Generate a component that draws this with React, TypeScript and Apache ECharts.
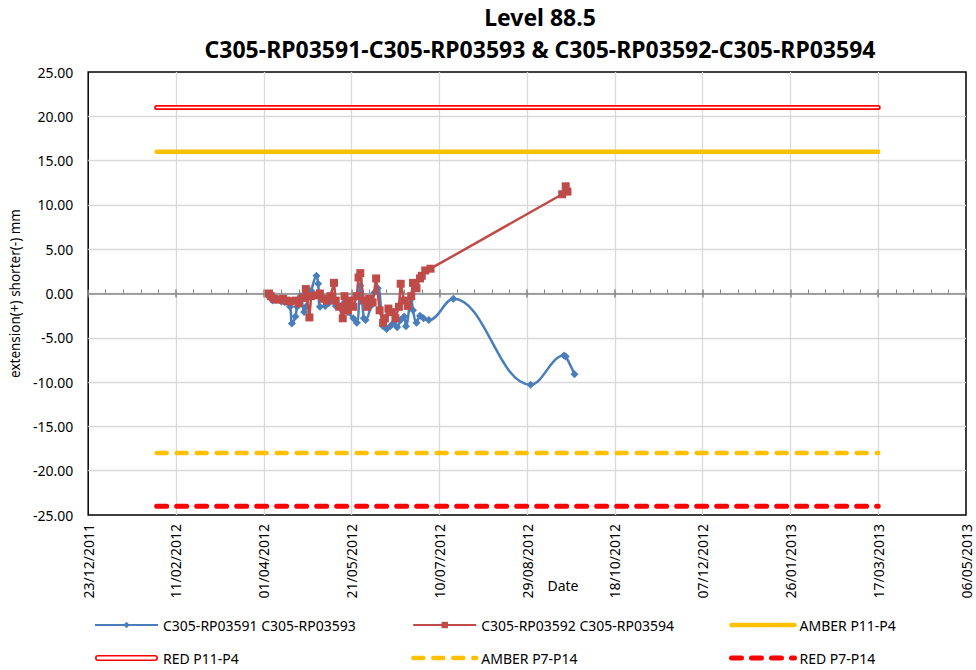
import React, { useEffect, useRef } from 'react';
import * as echarts from 'echarts';

const titleLines = ['Level 88.5', 'C305-RP03591-C305-RP03593 & C305-RP03592-C305-RP03594'];
const yAxisTitle = 'extension(+) shorter(-) mm';
const xAxisTitle = 'Date';
const axisStartDate = '2011-12-23';
const xTickStepDays = 50;
const xTickCount = 10;
const yMin = -25;
const yMax = 25;
const yStep = 5;

const series1Name = 'C305-RP03591 C305-RP03593';
const series1Dates = [
  '2012-04-04', '2012-04-06', '2012-04-11', '2012-04-13', '2012-04-16', '2012-04-17', '2012-04-19', '2012-04-20',
  '2012-04-22', '2012-04-24', '2012-04-25', '2012-04-28', '2012-05-01', '2012-05-02', '2012-05-03', '2012-05-06',
  '2012-05-08', '2012-05-10', '2012-05-12', '2012-05-15', '2012-05-17', '2012-05-19', '2012-05-22', '2012-05-24',
  '2012-05-26', '2012-05-28', '2012-05-29', '2012-06-01', '2012-06-03', '2012-06-05', '2012-06-08', '2012-06-10',
  '2012-06-12', '2012-06-14', '2012-06-16', '2012-06-18', '2012-06-20', '2012-06-21', '2012-06-24', '2012-06-25',
  '2012-06-27', '2012-06-29', '2012-07-01', '2012-07-04', '2012-07-18', '2012-08-31', '2012-09-19', '2012-09-20',
  '2012-09-25',
];
const series1Values = [
  -0.3, -0.8, -0.9, -1.0, -1.5, -3.4, -2.6, -1.5,
  -0.3, -2.1, -1.5, 0.3, 2.0, 1.1, -1.5, -1.4,
  -1.1, -0.8, -1.4, -1.6, -1.0, -2.1, -2.8, -3.3,
  0.9, -2.8, -3.0, -1.4, 0.1, 0.6, -3.7, -4.0,
  -3.7, -3.3, -3.8, -3.0, -2.6, -3.7, -0.6, -1.9,
  -3.3, -2.5, -2.8, -3.0, -0.6, -10.3, -7.0, -7.1,
  -9.1,
];

const series2Name = 'C305-RP03592 C305-RP03594';
const series2Dates = [
  '2012-04-04', '2012-04-05', '2012-04-07', '2012-04-09', '2012-04-12', '2012-04-14', '2012-04-16', '2012-04-19',
  '2012-04-21', '2012-04-23', '2012-04-25', '2012-04-27', '2012-04-28', '2012-05-01', '2012-05-03', '2012-05-05',
  '2012-05-07', '2012-05-09', '2012-05-11', '2012-05-12', '2012-05-14', '2012-05-16', '2012-05-17', '2012-05-19',
  '2012-05-20', '2012-05-22', '2012-05-24', '2012-05-25', '2012-05-26', '2012-05-28', '2012-05-30', '2012-05-31',
  '2012-06-02', '2012-06-04', '2012-06-06', '2012-06-08', '2012-06-09', '2012-06-11', '2012-06-13', '2012-06-15',
  '2012-06-17', '2012-06-18', '2012-06-20', '2012-06-22', '2012-06-24', '2012-06-25', '2012-06-27', '2012-06-29',
  '2012-06-30', '2012-07-02', '2012-07-05', '2012-09-18', '2012-09-20', '2012-09-21',
];
const series2Values = [
  0.0, -0.3, -0.6, -0.7, -0.6, -0.8, -0.9, -0.8,
  -1.1, -0.5, 0.5, -2.7, -0.3, -0.2, 0.0, -0.6,
  -0.8, -0.3, 1.2, -0.8, -1.5, -2.8, -0.3, -1.9,
  -0.8, -1.5, -0.3, 1.8, 2.3, -0.8, -1.5, -0.6,
  -1.0, 1.7, -1.9, -3.3, -2.8, -1.7, -2.1, -2.8,
  -1.5, 1.1, -0.8, -1.4, -0.3, 1.2, 0.6, 1.7,
  2.0, 2.6, 2.8, 11.2, 12.1, 11.5,
];

const thresholdDates = ['2012-01-31', '2013-03-17'];
const amberP11P4Name = 'AMBER P11-P4';
const amberP11P4Value = 16;
const redP11P4Name = 'RED P11-P4';
const redP11P4Value = 21;
const amberP7P14Name = 'AMBER P7-P14';
const amberP7P14Value = -18;
const redP7P14Name = 'RED P7-P14';
const redP7P14Value = -24;

const FONT = "'Noto Sans', 'Open Sans', sans-serif";
const DAY_MS = 86400000;
const toUTC = (s: string) => {
  const [y, m, d] = s.split('-').map(Number);
  return Date.UTC(y, m - 1, d);
};
const ORIGIN = toUTC(axisStartDate);
const toDay = (s: string) => Math.round((toUTC(s) - ORIGIN) / DAY_MS);
const pad = (n: number) => (n < 10 ? '0' + n : '' + n);
const dayLabel = (v: number) => {
  const d = new Date(ORIGIN + Math.round(v) * DAY_MS);
  return pad(d.getUTCDate()) + '/' + pad(d.getUTCMonth() + 1) + '/' + d.getUTCFullYear();
};

const BLUE = '#4a7ebb';
const RED_S = '#be4b48';
const AMBER = '#FFC000';
const RED = '#FF0000';

const doubleLineIcon =
  'path://M3,0 H60 A3,3 0 0 1 60,6 H3 A3,3 0 0 1 3,0 Z M3,1.6 A1.4,1.4 0 0 0 3,4.4 H60 A1.4,1.4 0 0 0 60,1.6 Z';

export default function App() {
  const ref = useRef<HTMLDivElement>(null);

  useEffect(() => {
    if (!ref.current) return;
    const chart = echarts.init(ref.current, undefined, { renderer: 'svg' });

    const s1 = series1Dates.map((d, i) => [toDay(d), series1Values[i]]);
    const s2 = series2Dates.map((d, i) => [toDay(d), series2Values[i]]);
    const flat = (v: number) => thresholdDates.map((d) => [toDay(d), v]);
    const xMax = xTickStepDays * xTickCount;

    const legendText = { fontSize: 14, color: '#000', fontFamily: FONT, lineHeight: 16 };
    const legendCommon = {
      orient: 'vertical',
      top: 617,
      itemGap: 17,
      itemWidth: 63,
      itemHeight: 8,
      selectedMode: false,
      textStyle: legendText,
      padding: 0,
    };

    const zeroAxisBase = {
      type: 'value',
      min: 0,
      max: xMax,
      interval: xTickStepDays,
      axisLabel: { show: false },
      splitLine: { show: false },
    };

    chart.setOption({
      animation: false,
      textStyle: { fontFamily: FONT },
      title: {
        text: titleLines.join('\n'),
        left: 540,
        top: 1,
        padding: 0,
        textAlign: 'center',
        textStyle: { fontSize: 23, fontWeight: 'bold', lineHeight: 32, color: '#000', fontFamily: FONT },
      },
      grid: {
        left: 87,
        right: 10,
        top: 72,
        bottom: 155,
        show: true,
        borderColor: '#000',
        borderWidth: 1.5,
        backgroundColor: 'transparent',
      },
      legend: [
        {
          ...legendCommon,
          left: 94,
          data: [
            { name: series1Name },
            { name: redP11P4Name, icon: doubleLineIcon, itemStyle: { color: RED } },
          ],
        },
        {
          ...legendCommon,
          left: 411,
          data: [
            { name: series2Name },
            { name: amberP7P14Name, itemStyle: { opacity: 0 }, lineStyle: { width: 4.5 } },
          ],
        },
        {
          ...legendCommon,
          left: 729,
          data: [
            { name: amberP11P4Name, itemStyle: { opacity: 0 }, lineStyle: { width: 4.5 } },
            { name: redP7P14Name, itemStyle: { opacity: 0 }, lineStyle: { width: 5 } },
          ],
        },
      ],
      xAxis: [
        {
          type: 'value',
          min: 0,
          max: xMax,
          interval: xTickStepDays,
          axisLine: { show: false, onZero: false },
          axisTick: { show: false },
          axisLabel: {
            rotate: 90,
            formatter: (v: number) => dayLabel(v),
            fontSize: 14,
            color: '#000',
            margin: 9,
            fontFamily: FONT,
          },
          splitLine: {
            show: true,
            showMinLine: false,
            showMaxLine: false,
            lineStyle: { color: '#d9d9d9', width: 1.3 },
          },
        },
        {
          ...zeroAxisBase,
          axisLine: { show: true, onZero: true, onZeroAxisIndex: 0, lineStyle: { color: '#868686', width: 1.5 } },
          axisTick: { show: true, inside: false, length: 4, lineStyle: { color: '#868686', width: 1.5 } },
          minorTick: { show: true, splitNumber: 5, length: 4, lineStyle: { color: '#868686', width: 1 } },
        },
        {
          ...zeroAxisBase,
          axisLine: { show: false, onZero: true, onZeroAxisIndex: 0 },
          axisTick: { show: true, inside: true, length: 4, lineStyle: { color: '#868686', width: 1.5 } },
        },
      ],
      yAxis: {
        type: 'value',
        min: yMin,
        max: yMax,
        interval: yStep,
        axisLine: { show: false, onZero: false },
        axisTick: { show: false },
        axisLabel: {
          formatter: (v: number) => v.toFixed(2),
          fontSize: 14,
          color: '#000',
          margin: 15,
          fontFamily: FONT,
        },
        splitLine: {
          show: true,
          showMinLine: false,
          showMaxLine: false,
          lineStyle: { color: '#d9d9d9', width: 1.3 },
        },
        name: yAxisTitle,
        nameLocation: 'middle',
        nameGap: 64,
        nameTextStyle: { fontSize: 13.5, color: '#000', fontFamily: FONT },
      },
      graphic: [
        {
          type: 'text',
          x: 563,
          y: 585,
          style: {
            text: xAxisTitle,
            fill: '#000',
            font: `14px ${FONT}`,
            align: 'center',
            verticalAlign: 'middle',
          },
        },
      ],
      series: [
        {
          type: 'line',
          name: series1Name,
          data: s1,
          smooth: 0.4,
          symbol: 'diamond',
          symbolSize: 8,
          lineStyle: { color: BLUE, width: 2.5 },
          itemStyle: { color: BLUE },
          z: 3,
        },
        {
          type: 'line',
          name: series2Name,
          data: s2,
          symbol: 'rect',
          symbolSize: 8,
          lineStyle: { color: RED_S, width: 2.5 },
          itemStyle: { color: RED_S },
          z: 4,
        },
        {
          type: 'line',
          name: amberP11P4Name,
          data: flat(amberP11P4Value),
          symbol: 'none',
          lineStyle: { color: AMBER, width: 4.5, cap: 'round' },
          itemStyle: { color: AMBER },
          z: 2,
        },
        {
          type: 'line',
          name: redP11P4Name,
          data: flat(redP11P4Value),
          symbol: 'none',
          lineStyle: { color: RED, width: 5, cap: 'round' },
          itemStyle: { color: RED },
          z: 2,
        },
        {
          type: 'line',
          name: redP11P4Name + ' inner',
          data: flat(redP11P4Value),
          symbol: 'none',
          silent: true,
          lineStyle: { color: '#ffffff', width: 1.6, cap: 'round' },
          itemStyle: { color: '#ffffff' },
          z: 2,
        },
        {
          type: 'line',
          name: amberP7P14Name,
          data: flat(amberP7P14Value),
          symbol: 'none',
          lineStyle: { color: AMBER, width: 4.5, type: [10, 10], cap: 'round' },
          itemStyle: { color: AMBER },
          z: 2,
        },
        {
          type: 'line',
          name: redP7P14Name,
          data: flat(redP7P14Value),
          symbol: 'none',
          lineStyle: { color: RED, width: 5, type: [10, 10], cap: 'round' },
          itemStyle: { color: RED },
          z: 2,
        },
      ],
    });

    return () => chart.dispose();
  }, []);

  return (
    <div
      ref={ref}
      style={{ position: 'fixed', left: 0, top: 0, width: 976, height: 670, background: '#fff' }}
    />
  );
}
